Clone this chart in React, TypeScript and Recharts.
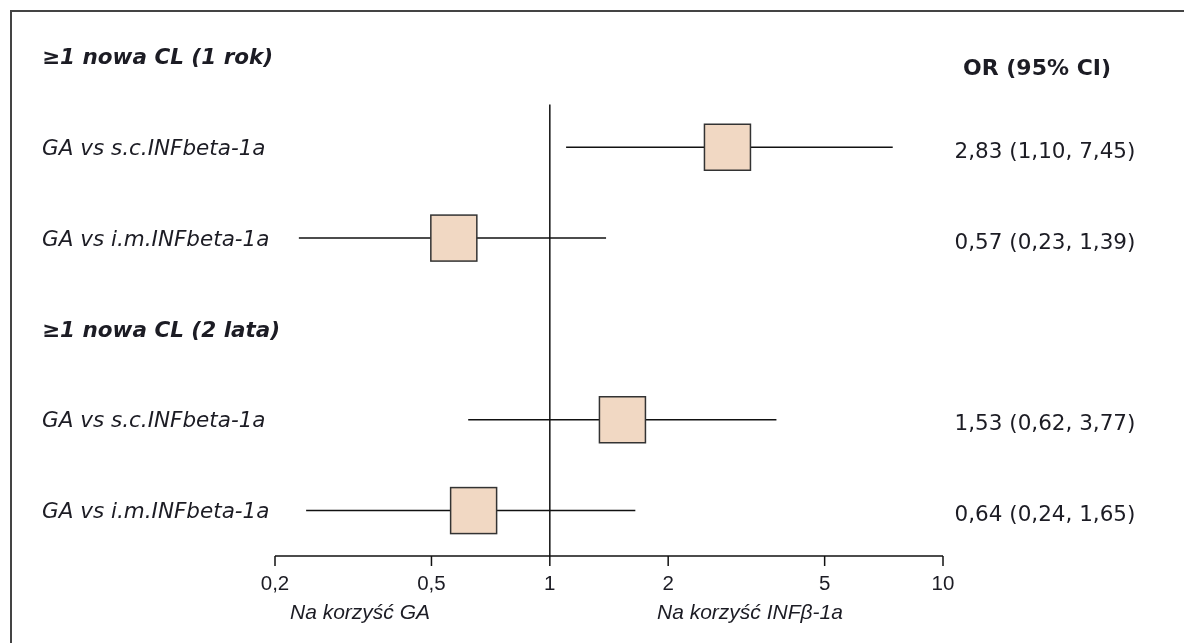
import React from 'react';
import {
  ScatterChart,
  Scatter,
  XAxis,
  YAxis,
  ErrorBar,
  ReferenceLine,
} from 'recharts';

// rows top to bottom; header rows have no estimate
const rowLabels = [
  '≥1 nowa CL (1 rok)',
  'GA vs s.c.INFbeta-1a',
  'GA vs i.m.INFbeta-1a',
  '≥1 nowa CL (2 lata)',
  'GA vs s.c.INFbeta-1a',
  'GA vs i.m.INFbeta-1a',
];
const headerRows = [0, 3];
const orValues: (number | null)[] = [null, 2.83, 0.57, null, 1.53, 0.64];
const ciLow: (number | null)[] = [null, 1.1, 0.23, null, 0.62, 0.24];
const ciHigh: (number | null)[] = [null, 7.45, 1.39, null, 3.77, 1.65];
const xTicks = [0.2, 0.5, 1, 2, 5, 10];
const rowTicks = [0, 1, 2, 3, 4, 5];

const comma = (v: number, d?: number) =>
  (d === undefined ? String(v) : v.toFixed(d)).replace('.', ',');

const points = orValues
  .map((or, i) =>
    or == null
      ? null
      : {
          row: i,
          or,
          err: [or - (ciLow[i] as number), (ciHigh[i] as number) - or],
        }
  )
  .filter(Boolean) as { row: number; or: number; err: number[] }[];

const wideFont = '"DejaVu Sans", Verdana, sans-serif';
const narrowFont = '"Liberation Sans", Arial, sans-serif';
const ink = '#1c1c24';

// left label + right OR column drawn from the same row tick
const RowTick = (props: any) => {
  const { y, payload } = props;
  const i = payload.value;
  const header = headerRows.includes(i);
  const or = orValues[i];
  return (
    <g>
      <text
        x={34}
        y={y}
        dy="0.36em"
        fill={ink}
        fontFamily={wideFont}
        fontSize={21.5}
        fontStyle="italic"
        fontWeight={header ? 'bold' : 'normal'}
      >
        {rowLabels[i]}
      </text>
      {i === 0 && (
        <text x={1029} y={y + 11} dy="0.36em" textAnchor="middle" fill={ink}
          fontFamily={wideFont} fontSize={22} fontWeight="bold">
          OR (95% CI)
        </text>
      )}
      {or != null && (
        <text x={1037} y={y + 3} dy="0.36em" textAnchor="middle" fill={ink}
          fontFamily={wideFont} fontSize={21.5}>
          {`${comma(or, 2)} (${comma(ciLow[i] as number, 2)}, ${comma(ciHigh[i] as number, 2)})`}
        </text>
      )}
    </g>
  );
};

const Box = (props: any) => {
  const { cx, cy } = props;
  return (
    <rect x={cx - 23} y={cy - 23} width={46} height={46}
      fill="#f1d8c3" stroke="#333" strokeWidth={1.5} />
  );
};

export default function App() {
  return (
    <div style={{ position: 'relative', width: 1168, height: 627, background: '#fff' }}>
      <div
        style={{
          position: 'fixed',
          left: 10,
          top: 10,
          width: 1174,
          height: 633,
          boxSizing: 'border-box',
          borderTop: '2px solid #444',
          borderLeft: '2px solid #444',
          pointerEvents: 'none',
        }}
      />
      <ScatterChart width={1168} height={627} margin={{ top: 3, right: 233, bottom: 0, left: 0 }}>
        <XAxis
          type="number"
          dataKey="or"
          scale="log"
          domain={[0.2, 10]}
          ticks={xTicks}
          allowDataOverflow
          interval={0}
          height={79}
          tickSize={10}
          tickMargin={9}
          tickFormatter={(v: number) => comma(v)}
          axisLine={{ stroke: '#111', strokeWidth: 1.5 }}
          tickLine={{ stroke: '#111', strokeWidth: 1.5 }}
          tick={{ fill: ink, fontSize: 20.5, fontFamily: narrowFont }}
        />
        <YAxis
          type="number"
          dataKey="row"
          domain={[-0.5, 5.5]}
          reversed
          ticks={rowTicks}
          interval={0}
          width={267}
          axisLine={false}
          tickLine={false}
          tick={RowTick}
        />
        <ReferenceLine
          segment={[
            { x: 1, y: 0.53 },
            { x: 1, y: 5.5 },
          ]}
          stroke="#111"
          strokeWidth={1.5}
        />
        <Scatter data={points} shape={Box} isAnimationActive={false}>
          <ErrorBar dataKey="err" direction="x" width={0} stroke="#111" strokeWidth={1.5} />
        </Scatter>
        <text x={282} y={603} dy="0.36em" fill={ink} fontFamily={narrowFont}
          fontSize={21} fontStyle="italic">
          Na korzyść GA
        </text>
        <text x={649} y={603} dy="0.36em" fill={ink} fontFamily={narrowFont}
          fontSize={21} fontStyle="italic">
          Na korzyść INFβ-1a
        </text>
      </ScatterChart>
    </div>
  );
}
